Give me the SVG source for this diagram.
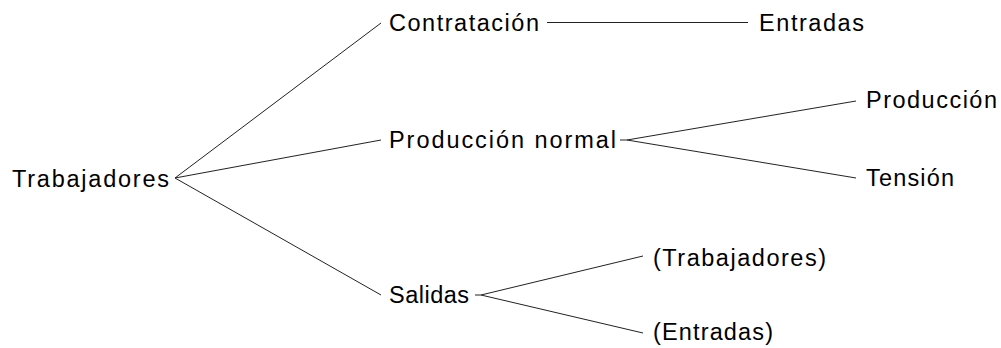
<svg xmlns="http://www.w3.org/2000/svg" width="1001" height="348" viewBox="0 0 1001 348">
<style>
text{font-family:"Liberation Sans",Arial,sans-serif;font-size:23.5px;fill:#000}
.c line{stroke:#222;stroke-width:1;fill:none}
</style>
<rect width="1001" height="348" fill="#fff"/>
<g class="c" id="connectors">
<line x1="175" y1="178" x2="381" y2="23"/>
<line x1="175" y1="178" x2="381" y2="140"/>
<line x1="175" y1="178" x2="381" y2="295"/>
<line x1="547" y1="22.5" x2="748" y2="22.5"/>
<line x1="620" y1="140" x2="627" y2="140"/>
<line x1="627" y1="140" x2="856" y2="101"/>
<line x1="627" y1="140" x2="856" y2="178"/>
<line x1="475" y1="295" x2="481" y2="295"/>
<line x1="481" y1="295" x2="643" y2="256"/>
<line x1="481" y1="295" x2="643" y2="333"/>
</g>
<g id="n-trabajadores"><text x="12" y="187" textLength="157" lengthAdjust="spacing">Trabajadores</text></g>
<g id="n-contratacion"><text x="389" y="31" textLength="150" lengthAdjust="spacing">Contratación</text></g>
<g id="n-entradas"><text x="759" y="31" textLength="105" lengthAdjust="spacing">Entradas</text></g>
<g id="n-produccion-normal"><text x="389" y="148" textLength="227" lengthAdjust="spacing">Producción normal</text></g>
<g id="n-produccion"><text x="866" y="108" textLength="131" lengthAdjust="spacing">Producción</text></g>
<g id="n-tension"><text x="866" y="186" textLength="88" lengthAdjust="spacing">Tensión</text></g>
<g id="n-salidas"><text x="389" y="303" textLength="80" lengthAdjust="spacing">Salidas</text></g>
<g id="n-trabajadores2"><text x="653" y="266" textLength="173" lengthAdjust="spacing">(Trabajadores)</text></g>
<g id="n-entradas2"><text x="653" y="340" textLength="120" lengthAdjust="spacing">(Entradas)</text></g>
</svg>
